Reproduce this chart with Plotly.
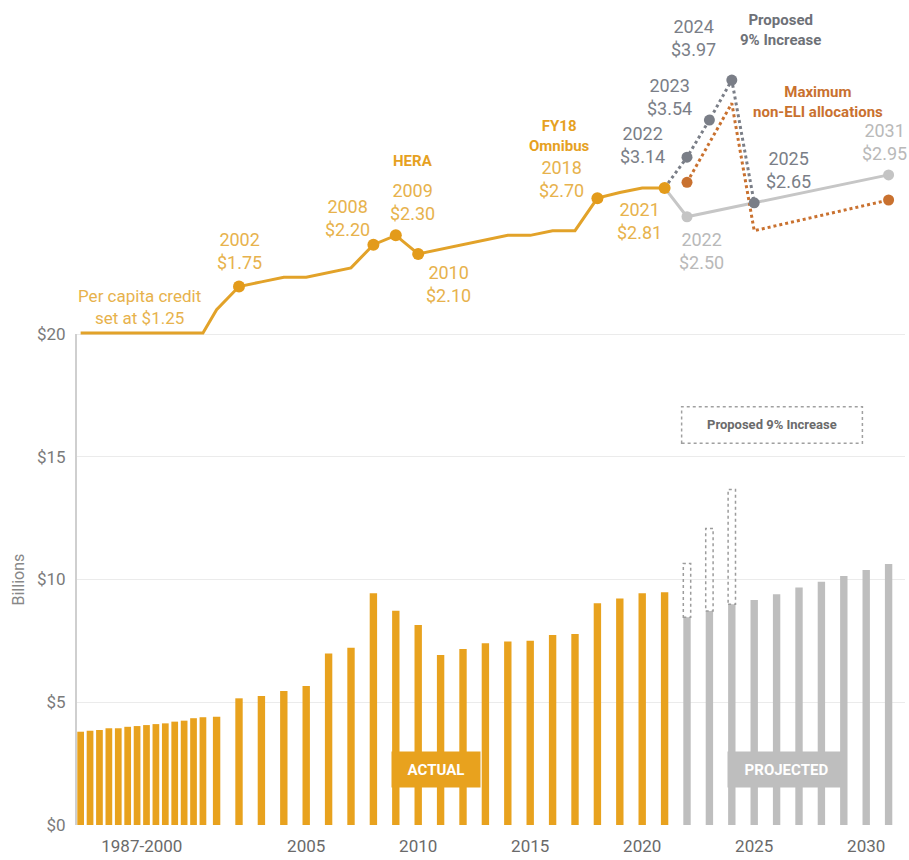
import plotly.graph_objects as go

# ---------------- data ----------------
actual_years = list(range(1987, 2022))
actual_vals = [3.80, 3.84, 3.87, 3.94, 3.94, 4.00, 4.03, 4.07, 4.11, 4.14, 4.21, 4.25, 4.35, 4.39,
               4.41, 5.16, 5.25, 5.46, 5.66, 6.99, 7.22, 9.44, 8.73, 8.15, 6.92, 7.17, 7.40, 7.47,
               7.51, 7.74, 7.78, 9.03, 9.23, 9.44, 9.48]
proj_years = list(range(2022, 2032))
proj_vals = [8.46, 8.72, 8.99, 9.16, 9.40, 9.67, 9.91, 10.14, 10.39, 10.63]
prop_years = [2022, 2023, 2024]
prop_vals = [10.65, 12.08, 13.67]

# per capita credit (upper line)
pc_years = list(range(1987, 2022))
pc_vals = [1.25, 1.25, 1.25, 1.25, 1.25, 1.25, 1.25, 1.25, 1.25, 1.25, 1.25, 1.25, 1.25, 1.25,
           1.50, 1.75, 1.80, 1.85, 1.85, 1.90, 1.95, 2.20, 2.30, 2.10, 2.15, 2.20, 2.25, 2.30,
           2.30, 2.35, 2.35, 2.70, 2.76, 2.81, 2.81]
pc_marked = [2002, 2008, 2009, 2010, 2018, 2021]

cur_years = [2021, 2022, 2025, 2031]
cur_vals = [2.81, 2.50, 2.65, 2.95]
p9_years = [2021, 2022, 2023, 2024, 2025]
p9_vals = [2.81, 3.14, 3.54, 3.97, 2.65]
eli_years = [2022, 2024, 2025, 2031]
eli_vals = [2.87, 3.72, 2.35, 2.68]

tick_labels = ["1987-2000", "2005", "2010", "2015", "2020", "2025", "2030"]
tick_years = [1993.5, 2005, 2010, 2015, 2020, 2025, 2030]

# ---------------- styling ----------------
ORANGE = "#E8A21E"
LINE_OR = "#E2A229"
LAB_OR = "#E7B24C"
GRAY_BAR = "#BEBEBE"
DARK = "#7A7E87"
LIGHT = "#B9B9B9"
BROWN = "#C9712F"
FONT = "Roboto"


def xpos(y):
    # 1987-2000 are drawn compressed
    if y <= 2000:
        return 1994.93 + 0.42 * (y - 1987)
    return y


def wid(y):
    return 0.30 if y <= 2000 else 0.33


fig = go.Figure()

fig.add_trace(go.Bar(x=[xpos(y) for y in actual_years], y=actual_vals,
                     width=[wid(y) for y in actual_years], marker_color=ORANGE,
                     marker_line_width=0, hoverinfo="skip"))
fig.add_trace(go.Bar(x=[xpos(y) for y in proj_years], y=proj_vals,
                     width=[wid(y) for y in proj_years], marker_color=GRAY_BAR,
                     marker_line_width=0, hoverinfo="skip"))

# per capita lines on secondary axis
fig.add_trace(go.Scatter(x=[xpos(y) for y in cur_years], y=cur_vals, yaxis="y2", mode="lines",
                         line=dict(color="#C6C6C6", width=3), hoverinfo="skip"))
fig.add_trace(go.Scatter(x=[xpos(y) for y in eli_years], y=eli_vals, yaxis="y2", mode="lines",
                         line=dict(color=BROWN, width=3, dash="dot"), hoverinfo="skip"))
fig.add_trace(go.Scatter(x=[xpos(y) for y in p9_years], y=p9_vals, yaxis="y2", mode="lines",
                         line=dict(color=DARK, width=3, dash="dot"), hoverinfo="skip"))
fig.add_trace(go.Scatter(x=[xpos(y) for y in pc_years], y=pc_vals, yaxis="y2", mode="lines",
                         line=dict(color=LINE_OR, width=3), hoverinfo="skip"))

# markers
mk_or = [(y, v) for y, v in zip(pc_years, pc_vals) if y in pc_marked]
fig.add_trace(go.Scatter(x=[xpos(y) for y, v in mk_or], y=[v for y, v in mk_or], yaxis="y2",
                         mode="markers", marker=dict(color="#E39B1B", size=12), hoverinfo="skip"))
fig.add_trace(go.Scatter(x=[xpos(eli_years[0]), xpos(eli_years[-1])], y=[eli_vals[0], eli_vals[-1]],
                         yaxis="y2", mode="markers", marker=dict(color=BROWN, size=11), hoverinfo="skip"))
fig.add_trace(go.Scatter(x=[xpos(y) for y in p9_years[1:]], y=p9_vals[1:], yaxis="y2",
                         mode="markers", marker=dict(color=DARK, size=11), hoverinfo="skip"))
fig.add_trace(go.Scatter(x=[xpos(cur_years[1]), xpos(cur_years[3])], y=[cur_vals[1], cur_vals[3]],
                         yaxis="y2", mode="markers", marker=dict(color="#C4C4C4", size=11),
                         hoverinfo="skip"))

shapes = []
# dotted outlines of the proposed increase
for y, top in zip(prop_years, prop_vals):
    base = proj_vals[proj_years.index(y)]
    shapes.append(dict(type="rect", xref="x", yref="y", x0=xpos(y) - wid(y) / 2,
                       x1=xpos(y) + wid(y) / 2, y0=base, y1=top,
                       line=dict(color="#9C9C9C", width=1.5, dash="dot"), fillcolor="rgba(0,0,0,0)"))
# legend box
shapes.append(dict(type="rect", xref="x", yref="y", x0=2021.76, x1=2029.83, y0=15.55, y1=17.04,
                   line=dict(color="#A0A0A0", width=1.5, dash="dot"), fillcolor="rgba(0,0,0,0)"))
# left axis line
shapes.append(dict(type="line", xref="paper", yref="y", x0=0, x1=0, y0=0, y1=20,
                   line=dict(color="#CFCFCF", width=2)))

ann = []


def lab(year, val, text, dx, dy, color, size=18, bold=False, xanchor="center"):
    t = "<b>" + text + "</b>" if bold else text
    ann.append(dict(x=xpos(year), y=val, xref="x", yref="y2", text=t, showarrow=False,
                    xshift=dx, yshift=-dy, xanchor=xanchor, yanchor="middle", align="center",
                    font=dict(family=FONT, size=size, color=color)))


def yv(year, vals, years):
    return vals[years.index(year)]


def money(v):
    return "${:.2f}".format(v)


lab(1993.5, 1.25, "Per capita credit<br>set at " + money(1.25), -2, -26, LAB_OR, size=17)
offs = {2002: (0, -36), 2008: (-26, -27), 2009: (17, -33), 2010: (30, 30), 2018: (-36, -19),
        2021: (-25, 33)}
for y in pc_marked:
    v = yv(y, pc_vals, pc_years)
    dx, dy = offs[y]
    lab(y, v, "{}<br>{}".format(y, money(v)), dx, dy, LAB_OR)
lab(2009, yv(2009, pc_vals, pc_years), "HERA", 17, -74, "#E6A11F", size=15, bold=True)
lab(2018, yv(2018, pc_vals, pc_years), "FY18<br>Omnibus", -38, -62, "#E6A11F", size=15, bold=True)

p9off = {2022: (-45, -12), 2023: (-40, -23), 2024: (-38, -42), 2025: (34, -33)}
for y in p9_years[1:]:
    v = yv(y, p9_vals, p9_years)
    dx, dy = p9off[y]
    lab(y, v, "{}<br>{}".format(y, money(v)), dx, dy, DARK)
lab(2022, cur_vals[1], "{}<br>{}".format(2022, money(cur_vals[1])), 14, 34, LIGHT)
lab(2031, cur_vals[3], "{}<br>{}".format(2031, money(cur_vals[3])), 20, -33, LIGHT, xanchor="right")

ann.append(dict(x=(780 - 76) / 829, y=(825 - 30) / 825, xref="paper", yref="paper",
                xanchor="center", yanchor="middle",
                text="<b>Proposed<br>9% Increase</b>", showarrow=False, align="center",
                font=dict(family=FONT, size=15, color="#6E7177")))
ann.append(dict(x=(818 - 76) / 829, y=(825 - 102) / 825, xref="paper", yref="paper",
                xanchor="center", yanchor="middle",
                text="<b>Maximum<br>non-ELI allocations</b>", showarrow=False, align="center",
                font=dict(family=FONT, size=15, color=BROWN)))
ann.append(dict(x=2025.8, y=16.3, xref="x", yref="y", text="<b>Proposed 9% Increase</b>",
                xanchor="center", yanchor="middle",
                showarrow=False, font=dict(family=FONT, size=13, color="#6B6B6B")))
ann.append(dict(x=2010.8, y=2.28, xref="x", yref="y", text="<b>ACTUAL</b>", showarrow=False,
                xanchor="center", yanchor="middle",
                bgcolor=ORANGE, width=88, height=35, borderpad=0,
                font=dict(family=FONT, size=15, color="white")))
ann.append(dict(x=2026.45, y=2.28, xref="x", yref="y", text="<b>PROJECTED</b>", showarrow=False,
                xanchor="center", yanchor="middle",
                bgcolor=GRAY_BAR, width=117, height=35, borderpad=0,
                font=dict(family=FONT, size=15, color="white")))
ann.append(dict(x=0, y=10, xref="paper", yref="y", text="Billions", textangle=-90, showarrow=False,
                xanchor="center", yanchor="middle",
                xshift=-58, font=dict(family=FONT, size=16, color="#888888")))

L, R, T, B = 76, 4, 0, 35
plot_h = 860 - T - B
px_per_b = 24.55
fig.update_layout(
    width=909, height=860, margin=dict(l=L, r=R, t=T, b=B),
    paper_bgcolor="white", plot_bgcolor="white", showlegend=False, barmode="overlay",
    font=dict(family=FONT),
    shapes=shapes, annotations=ann,
    xaxis=dict(range=[1994.723, 1994.723 + (909 - L - R) / 22.4],
               tickvals=[xpos(y) if y < 2001 else y for y in tick_years], ticktext=tick_labels,
               tickfont=dict(size=17, color="#6A6A6A"), showgrid=False, zeroline=False,
               ticks="outside", ticklen=6, tickcolor="rgba(0,0,0,0)", showline=False),
    yaxis=dict(range=[0, plot_h / px_per_b], tickvals=[0, 5, 10, 15, 20],
               ticktext=["$0", "$5", "$10", "$15", "$20"],
               tickfont=dict(size=17, color="#7A7A7A"), gridcolor="#EBEBEB", gridwidth=1,
               zeroline=False, showline=False, ticks="outside", ticklen=6,
               tickcolor="rgba(0,0,0,0)"),
    yaxis2=dict(overlaying="y", range=[-4.040, 4.8306], visible=False),
)

fig.write_html("out.html")
